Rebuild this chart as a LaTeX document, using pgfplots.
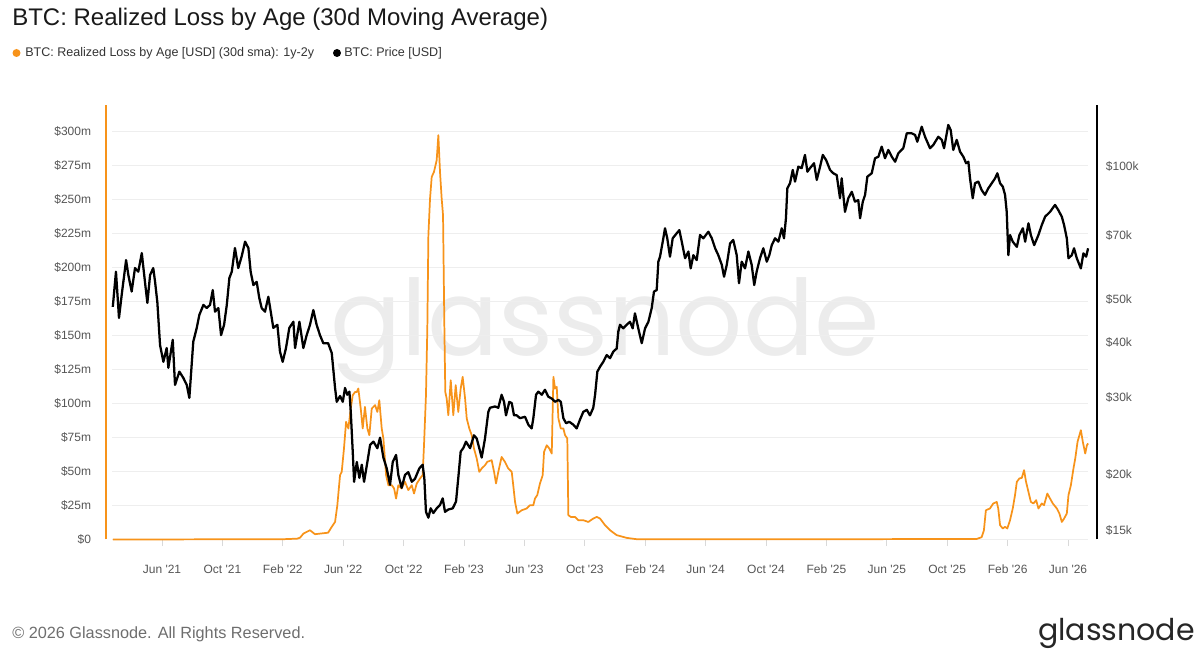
\documentclass[border=0pt]{standalone}
\usepackage{pgfplots}
\usepackage{pgfplotstable}
\pgfplotsset{compat=1.18}
\usepackage{fontspec}
\setmainfont{Liberation Sans}
\newfontfamily\logofont{Poppins}

\definecolor{btcorange}{RGB}{247,147,26}
\definecolor{gridgray}{RGB}{238,238,238}
\definecolor{labelgray}{RGB}{85,85,85}
\definecolor{footgray}{RGB}{110,110,110}
\definecolor{markgray}{RGB}{236,236,236}
\newcommand{\q}{\textquotesingle}

% x = months since Jan 2021 (Jun '21 = 5)
% realized loss of 1y-2y coins, 30d SMA, in USD millions
\pgfplotstableread{
m v
1.75 0
13.00 0.2
13.94 0.6
14.14 1.3
14.36 4.3
14.58 5.6
14.80 6.8
15.13 3.9
15.68 4.6
16.00 5.0
16.24 9.3
16.46 12.9
16.61 25.2
16.79 47.3
16.90 49.7
17.05 66.9
17.19 86.5
17.34 81.6
17.50 96.3
17.63 106.1
17.79 108.5
17.90 108.5
18.00 111.0
18.16 96.3
18.29 81.6
18.44 97.5
18.60 81.6
18.73 76.7
18.89 96.3
19.11 98.8
19.26 93.8
19.39 102.4
19.55 81.6
19.66 74.3
19.84 47.3
19.99 39.9
20.22 39.9
20.37 37.5
20.50 30.1
20.65 39.9
20.87 37.5
21.09 42.4
21.31 36.3
21.54 39.9
21.69 33.8
21.87 41.2
22.09 44.9
22.26 47.3
22.35 69.3
22.48 106.1
22.57 155.1
22.64 223.8
22.75 250.7
22.86 266.6
23.01 270.3
23.19 278.9
23.30 297.3
23.41 270.3
23.52 250.7
23.61 238.5
23.70 155.1
23.76 108.5
23.85 103.7
23.96 91.4
24.12 117.1
24.29 91.4
24.45 113.5
24.62 93.8
24.78 111.0
24.91 119.6
25.07 103.7
25.18 89.0
25.35 81.6
25.51 76.7
25.66 66.9
25.84 59.6
26.01 49.7
26.17 52.2
26.39 54.6
26.54 57.1
26.83 58.3
26.99 49.7
27.12 41.2
27.27 49.7
27.49 60.7
27.71 57.1
27.93 52.2
28.16 49.7
28.26 39.9
28.38 27.6
28.53 19.1
28.82 21.5
29.15 22.8
29.37 25.2
29.59 25.2
29.70 30.1
29.85 32.6
30.03 41.2
30.21 47.3
30.30 64.4
30.48 69.3
30.65 66.9
30.81 63.2
30.92 119.6
31.03 111.0
31.14 112.2
31.25 89.0
31.41 81.6
31.58 81.6
31.69 76.7
31.84 74.3
31.91 17.9
32.07 16.6
32.35 16.6
32.57 14.2
32.90 14.2
33.23 12.9
33.56 15.4
33.79 16.6
34.01 15.4
34.34 10.5
34.67 6.8
35.11 3.2
35.77 1.2
36.44 0.2
45.00 0.1
58.95 0.4
59.28 1.7
59.43 6.8
59.56 21.5
59.83 22.8
60.05 26.5
60.28 27.6
60.38 22.8
60.50 10.5
60.68 8.1
60.83 9.3
60.98 8.1
61.16 14.2
61.34 22.8
61.49 32.6
61.61 42.4
61.78 44.9
61.94 45.3
62.09 51.0
62.22 42.4
62.38 35.0
62.54 27.6
62.71 26.5
62.89 28.9
63.04 22.8
63.26 26.5
63.41 25.2
63.63 33.8
63.81 30.1
63.99 26.5
64.26 22.8
64.43 19.1
64.59 12.9
64.74 15.4
64.92 19.1
65.03 32.6
65.19 39.9
65.36 52.2
65.48 59.6
65.63 71.8
65.85 80.4
65.98 71.8
66.14 63.2
66.25 69.3
66.33 70.6
}\losstable

% BTC price in thousand USD
\pgfplotstableread{
m p
1.74 48.1
1.95 57.8
2.15 45.4
2.33 51.2
2.62 61.4
2.77 56.8
2.99 52.1
3.21 58.9
3.43 57.8
3.66 63.7
3.87 54.8
4.03 49.1
4.21 56.8
4.42 58.9
4.54 54.8
4.69 49.3
4.87 39.4
5.09 36.1
5.31 38.8
5.42 35.0
5.71 40.5
5.86 32.0
6.15 34.3
6.41 33.2
6.64 32.0
6.81 29.9
7.07 40.1
7.30 43.1
7.47 46.1
7.74 48.6
7.96 47.8
8.18 48.6
8.36 52.5
8.51 46.9
8.73 47.8
8.91 41.5
9.11 43.8
9.29 48.6
9.46 55.9
9.62 57.8
9.83 65.4
10.05 58.9
10.28 62.7
10.50 67.6
10.72 65.4
10.87 57.8
11.05 53.9
11.27 54.8
11.44 50.4
11.60 47.8
11.82 46.9
12.04 50.7
12.20 46.9
12.37 43.1
12.64 43.8
12.81 38.1
12.99 36.1
13.21 38.8
13.43 43.1
13.70 44.5
13.81 38.8
14.10 44.5
14.36 38.8
14.58 41.5
14.80 43.8
15.02 47.3
15.24 43.8
15.46 41.5
15.68 39.8
16.00 39.8
16.24 37.8
16.46 31.5
16.57 29.3
16.79 30.2
16.97 29.3
17.12 31.5
17.27 30.4
17.41 30.9
17.50 27.8
17.63 22.6
17.72 19.3
17.90 21.4
18.07 19.7
18.23 21.1
18.38 19.3
18.60 21.4
18.78 23.4
19.00 23.8
19.26 23.0
19.44 24.3
19.66 21.9
19.88 20.7
20.10 19.0
20.28 21.4
20.50 22.2
20.65 20.0
20.87 18.7
21.09 20.0
21.31 20.3
21.54 19.3
21.75 19.6
22.04 20.7
22.26 21.1
22.37 19.7
22.48 16.5
22.64 16.0
22.79 16.8
22.97 16.4
23.19 16.8
23.41 17.1
23.59 17.7
23.74 16.5
23.96 16.7
24.25 16.8
24.47 17.4
24.62 19.7
24.78 22.6
24.95 23.0
25.13 23.8
25.40 23.0
25.66 24.6
25.84 24.2
26.01 23.0
26.17 21.9
26.39 24.2
26.61 27.8
26.72 28.4
27.05 28.6
27.27 28.4
27.49 30.4
27.65 29.3
27.78 27.3
28.00 29.3
28.16 29.1
28.31 27.3
28.49 27.3
28.71 26.9
29.04 27.1
29.26 26.0
29.48 25.5
29.59 26.9
29.77 30.4
29.92 30.9
30.15 30.4
30.36 31.2
30.58 30.1
30.81 29.8
31.03 29.3
31.25 29.6
31.41 29.3
31.58 26.9
31.76 26.2
31.97 26.4
32.24 26.0
32.46 25.5
32.68 26.7
32.90 27.8
33.13 28.1
33.34 27.3
33.56 28.4
33.68 30.4
33.83 34.3
34.01 35.2
34.22 36.1
34.45 37.4
34.67 36.8
34.89 38.1
35.11 38.7
35.22 42.3
35.33 43.8
35.55 43.0
35.77 43.8
35.99 44.5
36.17 43.0
36.32 46.5
36.54 43.0
36.77 39.8
36.99 43.0
37.21 44.5
37.43 47.8
37.58 52.1
37.76 52.5
37.87 60.9
37.98 62.5
38.16 67.6
38.31 72.5
38.46 68.8
38.64 62.5
38.82 68.8
39.08 70.6
39.26 71.8
39.42 67.6
39.64 62.0
39.86 64.2
40.01 58.8
40.19 63.0
40.41 61.4
40.63 70.0
40.85 68.8
41.18 71.2
41.41 68.8
41.63 65.3
41.84 63.0
42.07 59.9
42.22 56.3
42.40 59.9
42.62 67.0
42.83 68.2
43.06 63.0
43.21 54.4
43.39 60.9
43.61 58.8
43.83 64.2
44.05 59.9
44.22 53.9
44.38 57.8
44.60 62.0
44.82 65.3
45.05 60.9
45.22 63.0
45.38 66.4
45.60 68.8
45.82 67.6
46.04 72.5
46.19 68.8
46.32 76.4
46.41 89.3
46.59 91.7
46.77 98.3
46.92 92.5
47.14 100.0
47.36 99.2
47.58 106.3
47.74 97.4
47.91 99.2
48.18 101.8
48.36 93.3
48.58 100.0
48.76 106.3
48.98 103.5
49.24 98.3
49.46 96.6
49.68 95.7
49.90 84.8
50.01 94.1
50.23 79.0
50.45 84.8
50.68 87.7
50.89 83.3
51.11 84.0
51.23 76.4
51.41 83.3
51.56 86.3
51.71 94.9
52.00 96.6
52.22 104.5
52.44 105.3
52.66 111.0
52.88 104.5
53.10 109.1
53.33 105.3
53.55 102.6
53.76 107.2
54.09 110.1
54.32 119.0
54.65 119.0
54.87 118.0
55.02 113.9
55.31 123.2
55.53 116.9
55.86 110.1
56.08 112.0
56.41 116.9
56.64 115.0
56.79 110.1
57.07 124.3
57.23 121.1
57.40 109.1
57.63 115.0
57.85 108.1
58.07 105.3
58.25 101.8
58.40 102.6
58.51 94.1
58.69 84.8
58.84 91.7
59.06 92.5
59.28 88.5
59.50 86.3
59.72 89.3
59.95 91.7
60.17 94.1
60.32 96.6
60.50 91.7
60.68 90.1
60.83 86.3
60.94 79.0
61.05 63.0
61.16 70.0
61.34 67.6
61.61 65.8
61.78 70.0
62.01 72.5
62.16 67.6
62.38 74.4
62.54 70.0
62.76 66.4
63.04 70.0
63.26 73.7
63.48 77.0
63.81 79.0
64.14 81.9
64.36 79.7
64.59 77.0
64.74 73.7
64.92 68.8
65.03 62.0
65.25 63.0
65.40 65.3
65.58 62.0
65.85 58.8
66.02 63.6
66.20 62.5
66.33 65.3
}\pricetable

\begin{document}
\begin{tikzpicture}
% page frame, 1 unit = 0.75pt
\begin{scope}[x=0.75pt,y=0.75pt]
  \path[use as bounding box] (0,0) rectangle (1200,660);
  \node[anchor=base west, inner sep=0pt, text=black!90,
        font=\fontsize{18}{21}\selectfont] at (12,634)
        {BTC: Realized Loss by Age (30d Moving Average)};
  \fill[btcorange] (16.5,607) circle[radius=4];
  \node[anchor=base west, inner sep=0pt, text=black!80,
        font=\fontsize{9.4}{11}\selectfont] at (25,603)
        {BTC: Realized Loss by Age [USD] (30d sma): 1y-2y};
  \fill[black] (337,607) circle[radius=4];
  \node[anchor=base west, inner sep=0pt, text=black!80,
        font=\fontsize{9.4}{11}\selectfont] at (344,603)
        {BTC: Price [USD]};
  % watermark behind the plot
  \node[anchor=base west, inner sep=0pt, text=markgray,
        font=\logofont\fontsize{79}{81}\selectfont] at (330,304.5) {glassnode};
  % footer
  \node[anchor=base west, inner sep=0pt, text=footgray,
        font=\fontsize{12.2}{14}\selectfont] at (12,21)
        {\textcopyright{} 2026 Glassnode. All Rights Reserved.};
  \node[anchor=base west, inner sep=0pt, text=black!85,
        font=\logofont\fontsize{22.5}{25}\selectfont] at (1038,19) {glassnode};
\end{scope}

% realized loss, left axis
\begin{axis}[
  at={(79.5pt,90.375pt)}, anchor=south west,
  scale only axis, width=743.25pt, height=325.9pt,
  xmin=1.29, xmax=66.92, ymin=0, ymax=319.5,
  axis x line*=bottom, axis y line*=left,
  x axis line style={draw=none},
  y axis line style={draw=btcorange, line width=1.5pt, -},
  xtick={5,9,...,65},
  xticklabels={Jun \q21,Oct \q21,Feb \q22,Jun \q22,Oct \q22,Feb \q23,
    Jun \q23,Oct \q23,Feb \q24,Jun \q24,Oct \q24,Feb \q25,Jun \q25,
    Oct \q25,Feb \q26,Jun \q26},
  xtick style={draw=black!15, line width=0.6pt},
  tick align=outside, major tick length=5pt,
  xticklabel style={anchor=base, inner sep=0pt, yshift=-20.6pt,
    text=labelgray, font=\fontsize{9}{11}\selectfont},
  ytick={0,25,...,300},
  yticklabels={\$0,\$25m,\$50m,\$75m,\$100m,\$125m,\$150m,\$175m,
    \$200m,\$225m,\$250m,\$275m,\$300m},
  ytick style={draw=none},
  yticklabel style={anchor=east, inner sep=0pt, xshift=-6pt,
    text=labelgray, font=\fontsize{9}{11}\selectfont},
  clip=false,
]
  \pgfplotsinvokeforeach{0,25,...,300}{
    \draw[gridgray, line width=0.75pt] (axis cs:1.7,#1) -- (axis cs:66.35,#1);
  }
  \addplot[btcorange, line width=1.3pt, line join=round] table[x=m, y=v] {\losstable};
\end{axis}

% price, right axis (log)
\begin{axis}[
  at={(79.5pt,90.375pt)}, anchor=south west,
  scale only axis, width=743.25pt, height=325.9pt,
  xmin=1.29, xmax=66.92,
  ymode=log, ymin=14.28, ymax=138,
  axis x line=none, axis y line*=right,
  y axis line style={draw=black, line width=1.5pt, -},
  ytick={15,20,30,40,50,70,100},
  yticklabels={\$15k,\$20k,\$30k,\$40k,\$50k,\$70k,\$100k},
  minor ytick={}, ytick style={draw=none},
  yticklabel style={anchor=west, inner sep=0pt, xshift=6.5pt,
    text=labelgray, font=\fontsize{9}{11}\selectfont},
  clip=false,
]
  \addplot[black, line width=1.7pt, line join=round] table[x=m, y=p] {\pricetable};
\end{axis}
\end{tikzpicture}
\end{document}
